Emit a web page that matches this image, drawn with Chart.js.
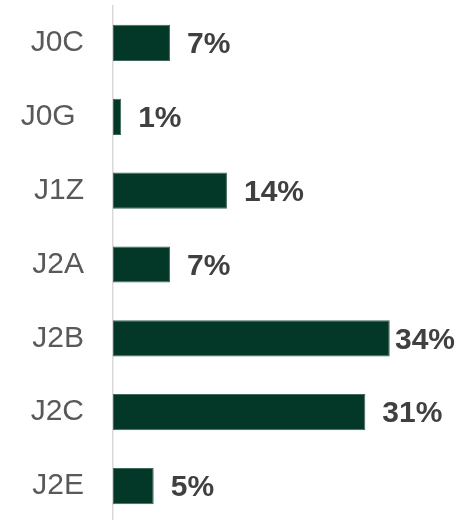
<!DOCTYPE html>
<html>
<head>
<meta charset="utf-8">
<script src="https://cdn.jsdelivr.net/npm/chart.js@4/dist/chart.umd.min.js"></script>
<style>
  html, body { margin: 0; padding: 0; background: #fff; overflow: hidden; }
  #wrap { width: 463px; height: 523px; position: relative; }
</style>
</head>
<body>
<div id="wrap"><canvas id="share-chart"></canvas></div>
<script>
// Share per code (%)
const codes = ['J0C', 'J0G ', 'J1Z', 'J2A', 'J2B', 'J2C', 'J2E'];
const shares = [7, 1, 14, 7, 34, 31, 5];

const BAR_FILL = '#033727';
const BAR_EDGE = '#3f6a5a';
const AXIS_LEFT = 113;

// Bold percentage next to each bar, pulled in if it would run off the right edge
const valueLabels = {
  id: 'valueLabels',
  afterDatasetsDraw(chart) {
    const { ctx } = chart;
    const meta = chart.getDatasetMeta(0);
    ctx.save();
    ctx.font = 'bold 30px "Liberation Sans", Arial, sans-serif';
    ctx.fillStyle = '#404040';
    ctx.textBaseline = 'middle';
    ctx.textAlign = 'left';
    meta.data.forEach((bar, i) => {
      const text = shares[i] + '%';
      const w = ctx.measureText(text).width;
      const x = Math.min(bar.x + 17, chart.width - 8 - w);
      ctx.fillText(text, x, bar.y + 2);
    });
    ctx.restore();
  },
};

const ctx = document.getElementById('share-chart').getContext('2d');
new Chart(ctx, {
  type: 'bar',
  data: {
    labels: codes,
    datasets: [{
      data: shares,
      backgroundColor: BAR_FILL,
      borderColor: BAR_EDGE,
      borderWidth: 1,
      borderSkipped: false,
      categoryPercentage: 1,
      barPercentage: 0.49,
    }],
  },
  options: {
    indexAxis: 'y',
    responsive: true,
    maintainAspectRatio: false,
    animation: false,
    layout: { padding: { top: 6, bottom: 0, left: 0, right: 0 } },
    plugins: {
      legend: { display: false },
      tooltip: { enabled: false },
    },
    scales: {
      x: {
        display: false,
        min: 0,
        max: 43,
      },
      y: {
        grid: { display: false, drawTicks: false },
        border: { display: true, color: '#d9d9d9', width: 1.5 },
        afterFit: axis => {
          axis.width = AXIS_LEFT;
          axis.paddingTop = 0;
          axis.paddingBottom = 0;
        },
        ticks: {
          color: '#595959',
          padding: 29,
          font: { size: 30, family: '"Liberation Sans", Arial, sans-serif' },
        },
      },
    },
  },
  plugins: [valueLabels],
});
</script>
</body>
</html>
